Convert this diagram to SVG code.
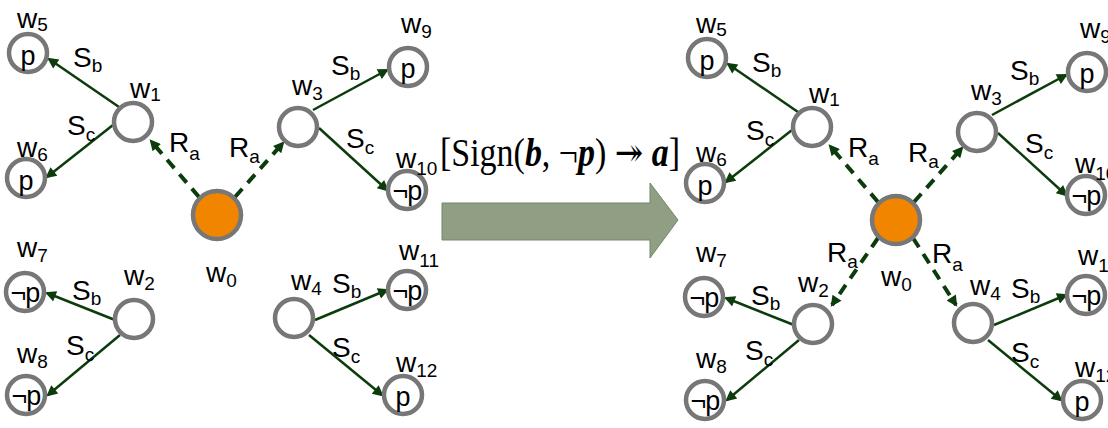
<svg xmlns="http://www.w3.org/2000/svg" width="1108" height="428" viewBox="0 0 1108 428">
<style>
.n{fill:#fff;stroke:#777;stroke-width:4.5}
.o{fill:#f28500;stroke:#777;stroke-width:4.5}
.t{font-family:"Liberation Sans",Arial,sans-serif;font-size:28px;fill:#000}
.s{font-size:19px}
.c{font-family:"Liberation Sans",Arial,sans-serif;font-size:27px;fill:#000;text-anchor:middle}
.e{stroke:#0c3c0c;stroke-width:2.5;fill:none;marker-end:url(#ah)}
.d{stroke:#0c3c0c;stroke-width:4;fill:none;stroke-dasharray:11 8;marker-end:url(#ah)}
.bi{font-weight:bold;font-style:italic}
</style>
<defs>
<marker id="ah" viewBox="0 0 10 10" refX="8" refY="5" markerWidth="13" markerHeight="11" markerUnits="userSpaceOnUse" orient="auto"><path d="M0,0 L10,5 L0,10 z" fill="#0c3c0c"/></marker>
</defs>
<rect width="1108" height="428" fill="#fff"/>

<!-- Left graph -->
<g id="left">
<g id="left-connectors">
<line class="e" x1="119" y1="107" x2="49" y2="59"/>
<line class="e" x1="113" y1="125" x2="47" y2="177"/>
<line class="e" x1="115" y1="320" x2="47" y2="293"/>
<line class="e" x1="120" y1="335" x2="48" y2="395"/>
<line class="e" x1="313" y1="110" x2="387" y2="70"/>
<line class="e" x1="319" y1="128" x2="387" y2="190"/>
<line class="e" x1="315" y1="320" x2="387" y2="290"/>
<line class="e" x1="309" y1="335" x2="382" y2="395"/>
<line class="d" x1="199" y1="197" x2="151" y2="141"/>
<line class="d" x1="235" y1="197" x2="283" y2="143"/>
<text class="t" x="73" y="67">S<tspan class="s" dy="5">b</tspan></text>
<text class="t" x="67" y="135">S<tspan class="s" dy="6">c</tspan></text>
<text class="t" x="72" y="300">S<tspan class="s" dy="5">b</tspan></text>
<text class="t" x="66" y="355">S<tspan class="s" dy="6">c</tspan></text>
<text class="t" x="331" y="75">S<tspan class="s" dy="5">b</tspan></text>
<text class="t" x="346" y="148">S<tspan class="s" dy="6">c</tspan></text>
<text class="t" x="332" y="293">S<tspan class="s" dy="5">b</tspan></text>
<text class="t" x="332" y="357">S<tspan class="s" dy="6">c</tspan></text>
<text class="t" x="169" y="152">R<tspan class="s" dy="8">a</tspan></text>
<text class="t" x="229" y="157">R<tspan class="s" dy="6">a</tspan></text>
</g>
<g id="L-w0"><circle class="o" cx="217" cy="215" r="24"/><text class="t" x="206" y="282">w<tspan class="s" dy="5">0</tspan></text></g>
<g id="L-w1"><circle class="n" cx="133" cy="122" r="19"/><text class="t" x="130" y="98">w<tspan class="s" dy="3">1</tspan></text></g>
<g id="L-w2"><circle class="n" cx="134" cy="319" r="19"/><text class="t" x="124" y="285">w<tspan class="s" dy="5">2</tspan></text></g>
<g id="L-w3"><circle class="n" cx="298" cy="127" r="19"/><text class="t" x="292" y="95">w<tspan class="s" dy="5">3</tspan></text></g>
<g id="L-w4"><circle class="n" cx="294" cy="318" r="19"/><text class="t" x="291" y="290">w<tspan class="s" dy="5">4</tspan></text></g>
<g id="L-w5"><circle class="n" cx="28" cy="53" r="19"/><text class="c" x="28" y="65">p</text><text class="t" x="17" y="28">w<tspan class="s" dy="3">5</tspan></text></g>
<g id="L-w6"><circle class="n" cx="26" cy="178" r="19"/><text class="c" x="26" y="190">p</text><text class="t" x="17" y="157">w<tspan class="s" dy="4">6</tspan></text></g>
<g id="L-w7"><circle class="n" cx="25" cy="292" r="19"/><text class="c" x="25" y="302" letter-spacing="-1">¬p</text><text class="t" x="17" y="257">w<tspan class="s" dy="5">7</tspan></text></g>
<g id="L-w8"><circle class="n" cx="26" cy="395" r="19"/><text class="c" x="26" y="405" letter-spacing="-1">¬p</text><text class="t" x="17" y="363">w<tspan class="s" dy="5">8</tspan></text></g>
<g id="L-w9"><circle class="n" cx="408" cy="67" r="19"/><text class="c" x="408" y="78">p</text><text class="t" x="401" y="33">w<tspan class="s" dy="5">9</tspan></text></g>
<g id="L-w10"><circle class="n" cx="407" cy="190" r="19"/><text class="c" x="407" y="200" letter-spacing="-1">¬p</text><text class="t" x="396" y="168">w<tspan class="s" dy="7">10</tspan></text></g>
<g id="L-w11"><circle class="n" cx="407" cy="290" r="19"/><text class="c" x="407" y="300" letter-spacing="-1">¬p</text><text class="t" x="399" y="260">w<tspan class="s" dy="7">11</tspan></text></g>
<g id="L-w12"><circle class="n" cx="403" cy="395" r="19"/><text class="c" x="403" y="406">p</text><text class="t" x="396" y="372">w<tspan class="s" dy="5">12</tspan></text></g>
</g>

<!-- Transformation arrow and label -->
<g id="transform">
<path d="M442,203 L650,203 L650,183 L678,220 L650,258 L650,240 L442,240 Z" fill="#909f83" stroke="#76856a" stroke-width="1"/>
<text x="440" y="166" font-family="'Liberation Serif','DejaVu Serif',serif" font-size="40" textLength="240" lengthAdjust="spacingAndGlyphs" fill="#000">[Sign(<tspan class="bi">b</tspan>, ¬<tspan class="bi">p</tspan>) ↠ <tspan class="bi">a</tspan>]</text>
</g>

<!-- Right graph -->
<g id="right" transform="translate(679,5)">
<g id="right-connectors">
<line class="e" x1="119" y1="107" x2="49" y2="59"/>
<line class="e" x1="113" y1="125" x2="47" y2="177"/>
<line class="e" x1="115" y1="320" x2="47" y2="293"/>
<line class="e" x1="120" y1="335" x2="48" y2="395"/>
<line class="e" x1="313" y1="110" x2="387" y2="70"/>
<line class="e" x1="319" y1="128" x2="387" y2="190"/>
<line class="e" x1="315" y1="320" x2="387" y2="290"/>
<line class="e" x1="309" y1="335" x2="382" y2="395"/>
<line class="d" x1="199" y1="197" x2="151" y2="141"/>
<line class="d" x1="235" y1="197" x2="283" y2="143"/>
<line class="d" x1="199" y1="233" x2="153" y2="300"/>
<line class="d" x1="234" y1="233" x2="277" y2="300"/>
<text class="t" x="73" y="67">S<tspan class="s" dy="5">b</tspan></text>
<text class="t" x="67" y="135">S<tspan class="s" dy="6">c</tspan></text>
<text class="t" x="72" y="300">S<tspan class="s" dy="5">b</tspan></text>
<text class="t" x="66" y="355">S<tspan class="s" dy="6">c</tspan></text>
<text class="t" x="331" y="75">S<tspan class="s" dy="5">b</tspan></text>
<text class="t" x="346" y="148">S<tspan class="s" dy="6">c</tspan></text>
<text class="t" x="332" y="293">S<tspan class="s" dy="5">b</tspan></text>
<text class="t" x="332" y="357">S<tspan class="s" dy="6">c</tspan></text>
<text class="t" x="169" y="152">R<tspan class="s" dy="8">a</tspan></text>
<text class="t" x="229" y="157">R<tspan class="s" dy="6">a</tspan></text>
<text class="t" x="148" y="257">R<tspan class="s" dy="6">a</tspan></text>
<text class="t" x="253" y="258">R<tspan class="s" dy="8">a</tspan></text>
</g>
<g id="R-w0"><circle class="o" cx="217" cy="215" r="24"/><text class="t" x="202" y="281">w<tspan class="s" dy="5">0</tspan></text></g>
<g id="R-w1"><circle class="n" cx="133" cy="122" r="19"/><text class="t" x="130" y="98">w<tspan class="s" dy="3">1</tspan></text></g>
<g id="R-w2"><circle class="n" cx="134" cy="319" r="19"/><text class="t" x="119" y="287">w<tspan class="s" dy="5">2</tspan></text></g>
<g id="R-w3"><circle class="n" cx="298" cy="127" r="19"/><text class="t" x="292" y="95">w<tspan class="s" dy="5">3</tspan></text></g>
<g id="R-w4"><circle class="n" cx="294" cy="318" r="19"/><text class="t" x="291" y="290">w<tspan class="s" dy="5">4</tspan></text></g>
<g id="R-w5"><circle class="n" cx="28" cy="53" r="19"/><text class="c" x="28" y="65">p</text><text class="t" x="17" y="28">w<tspan class="s" dy="3">5</tspan></text></g>
<g id="R-w6"><circle class="n" cx="26" cy="178" r="19"/><text class="c" x="26" y="190">p</text><text class="t" x="17" y="157">w<tspan class="s" dy="4">6</tspan></text></g>
<g id="R-w7"><circle class="n" cx="25" cy="292" r="19"/><text class="c" x="25" y="302" letter-spacing="-1">¬p</text><text class="t" x="17" y="257">w<tspan class="s" dy="5">7</tspan></text></g>
<g id="R-w8"><circle class="n" cx="26" cy="395" r="19"/><text class="c" x="26" y="405" letter-spacing="-1">¬p</text><text class="t" x="17" y="363">w<tspan class="s" dy="5">8</tspan></text></g>
<g id="R-w9"><circle class="n" cx="408" cy="67" r="19"/><text class="c" x="408" y="78">p</text><text class="t" x="401" y="33">w<tspan class="s" dy="5">9</tspan></text></g>
<g id="R-w10"><circle class="n" cx="407" cy="190" r="19"/><text class="c" x="407" y="200" letter-spacing="-1">¬p</text><text class="t" x="396" y="168">w<tspan class="s" dy="7">10</tspan></text></g>
<g id="R-w11"><circle class="n" cx="407" cy="290" r="19"/><text class="c" x="407" y="300" letter-spacing="-1">¬p</text><text class="t" x="399" y="260">w<tspan class="s" dy="7">11</tspan></text></g>
<g id="R-w12"><circle class="n" cx="403" cy="395" r="19"/><text class="c" x="403" y="406">p</text><text class="t" x="396" y="372">w<tspan class="s" dy="5">12</tspan></text></g>
</g>
</svg>
